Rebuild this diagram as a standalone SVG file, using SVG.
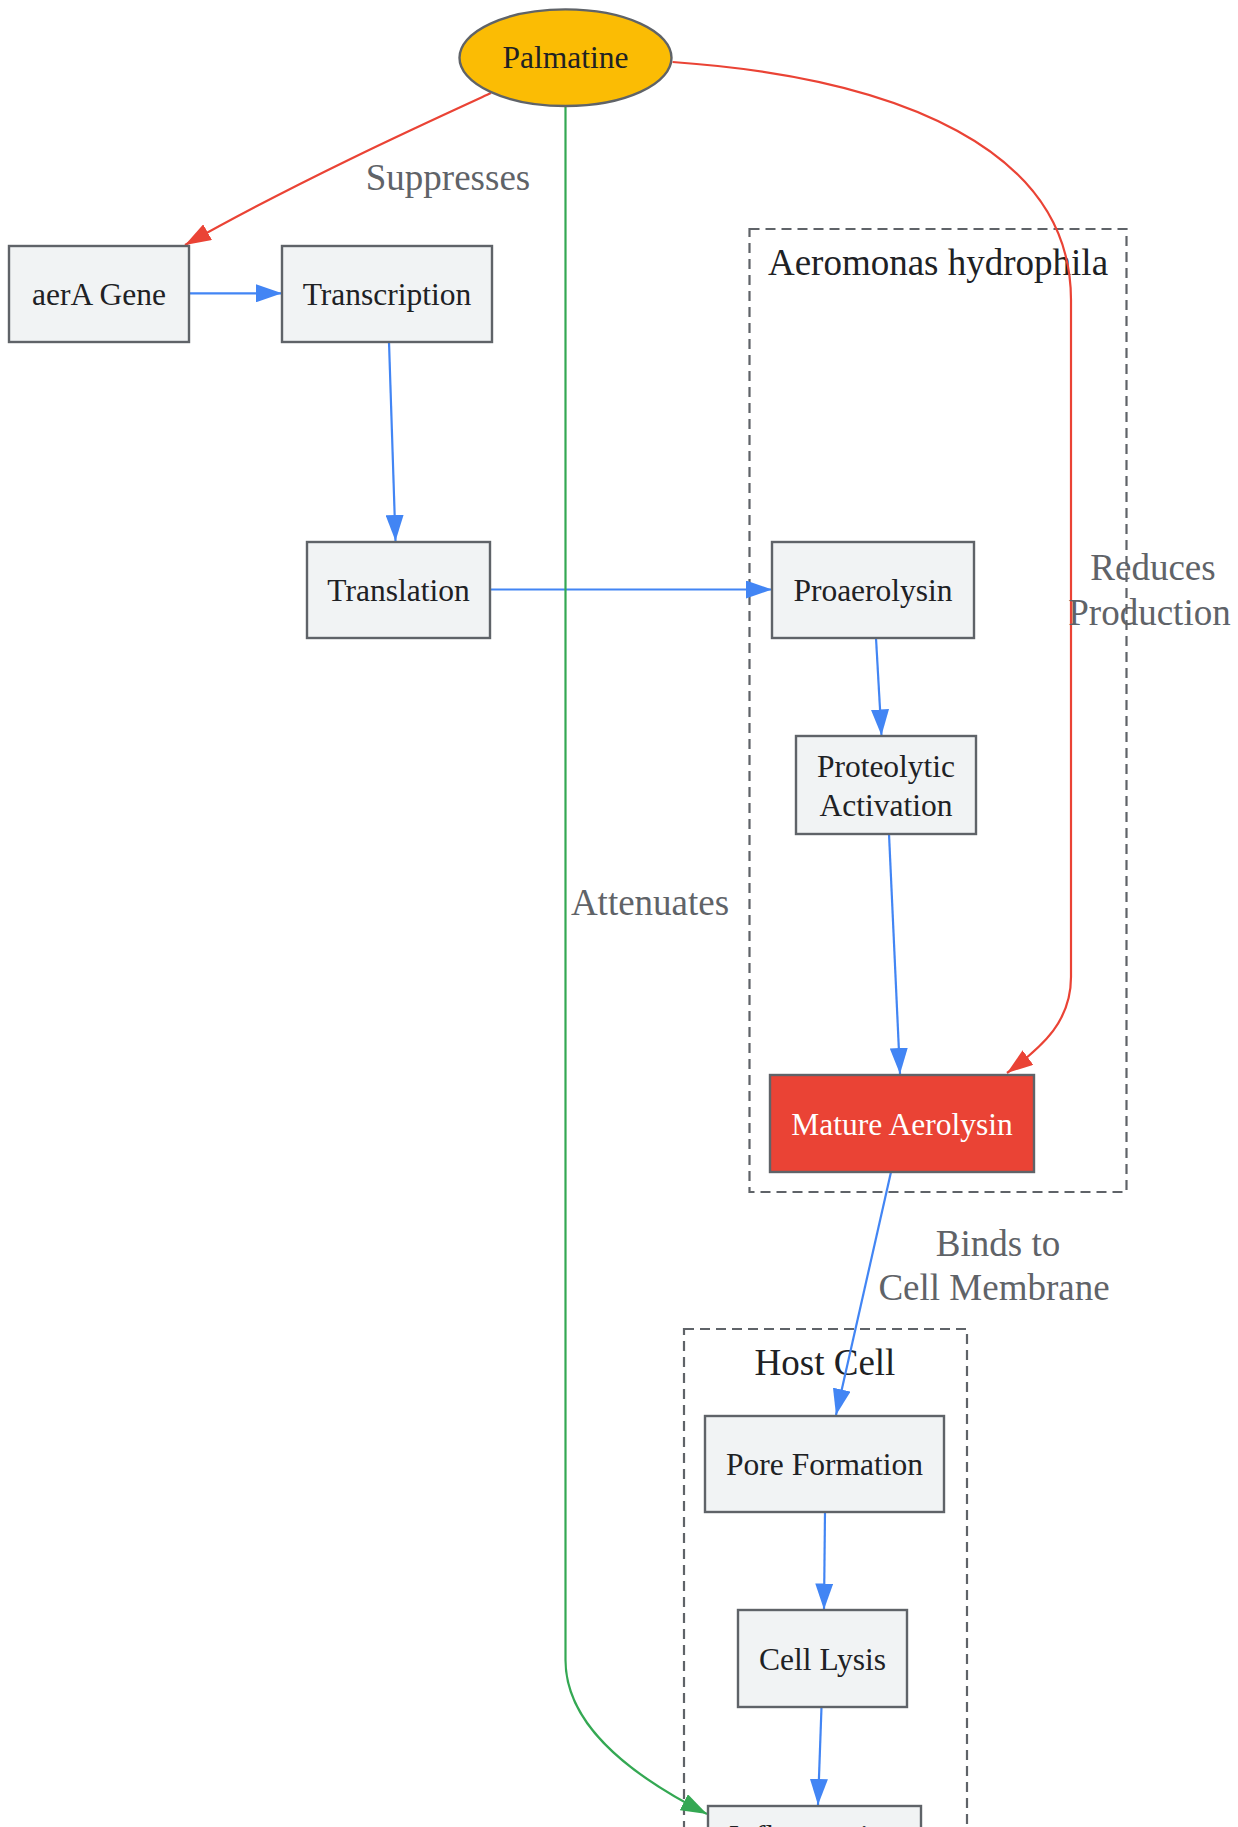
<svg xmlns="http://www.w3.org/2000/svg" width="1238" height="1827" viewBox="0 0 1238 1827">
<style>
.node rect, .node ellipse { fill: #F1F3F4; stroke: #5F6368; stroke-width: 2.4; }
.ntext { font-family: "Liberation Serif", "Times New Roman", serif; font-size: 31.5px; fill: #202124; text-anchor: middle; }
.elabel { font-family: "Liberation Serif", "Times New Roman", serif; font-size: 37px; fill: #5F6368; text-anchor: middle; }
.clabel { font-family: "Liberation Serif", "Times New Roman", serif; font-size: 37px; fill: #202124; text-anchor: middle; }
.cluster rect { fill: none; stroke: #5F6368; stroke-width: 2.2; stroke-dasharray: 10 6; }
.edge { fill: none; stroke-width: 2.2; }
.blue { stroke: #4285F4; }
.red { stroke: #EA4335; }
.green { stroke: #34A853; }
</style>
<defs>
<marker id="ab" markerUnits="userSpaceOnUse" markerWidth="26" markerHeight="18" refX="26" refY="9" orient="auto"><path d="M0,0 L26,9 L0,18 z" fill="#4285F4"/></marker>
<marker id="ar" markerUnits="userSpaceOnUse" markerWidth="26" markerHeight="18" refX="26" refY="9" orient="auto"><path d="M0,0 L26,9 L0,18 z" fill="#EA4335"/></marker>
<marker id="ag" markerUnits="userSpaceOnUse" markerWidth="26" markerHeight="18" refX="26" refY="9" orient="auto"><path d="M0,0 L26,9 L0,18 z" fill="#34A853"/></marker>
</defs>
<rect width="1238" height="1827" fill="#FFFFFF"/>

<g id="cluster-aeromonas" class="cluster">
<rect x="749.5" y="229" width="377" height="963"/>
<text class="clabel" x="938" y="275">Aeromonas hydrophila</text>
</g>
<g id="cluster-host" class="cluster">
<rect x="684" y="1329" width="283" height="600"/>
<text class="clabel" x="825" y="1375">Host Cell</text>
</g>

<g id="connectors">
<path class="edge red" d="M491,93 C430,121 300,180 185,245" marker-end="url(#ar)"/>
<path class="edge blue" d="M189,293.3 L282,293.3" marker-end="url(#ab)"/>
<path class="edge blue" d="M389,342 L395.5,541" marker-end="url(#ab)"/>
<path class="edge blue" d="M490,589.5 L772,589.5" marker-end="url(#ab)"/>
<path class="edge blue" d="M876,638 L881.5,735.5" marker-end="url(#ab)"/>
<path class="edge blue" d="M889,834 L900,1074" marker-end="url(#ab)"/>
<path class="edge blue" d="M891,1172 L836,1415" marker-end="url(#ab)"/>
<path class="edge blue" d="M825,1512 L824,1609.5" marker-end="url(#ab)"/>
<path class="edge blue" d="M821.5,1707 L818,1805" marker-end="url(#ab)"/>
<path class="edge red" d="M672.6,62 C900,78 1071,150 1071,300 L1071,977 C1071,1020 1045,1045 1007,1073" marker-end="url(#ar)"/>
<path class="edge green" d="M565.5,106 L565.5,1660 C565.5,1720 620,1770 707,1814" marker-end="url(#ag)"/>
<text class="elabel" x="448" y="190">Suppresses</text>
<text class="elabel" x="1153" y="580">Reduces</text>
<text class="elabel" x="1149.5" y="625">Production</text>
<text class="elabel" x="650" y="915">Attenuates</text>
<text class="elabel" x="998" y="1255.5">Binds to</text>
<text class="elabel" x="994" y="1300">Cell Membrane</text>
</g>

<g id="node-palmatine" class="node">
<ellipse cx="565.5" cy="57.7" rx="106" ry="48.3" style="fill:#FBBC04"/>
<text class="ntext" x="565.5" y="68.3">Palmatine</text>
</g>
<g id="node-aerA" class="node">
<rect x="9" y="246" width="180" height="96"/>
<text class="ntext" x="99" y="305">aerA Gene</text>
</g>
<g id="node-transcription" class="node">
<rect x="282" y="246" width="210" height="96"/>
<text class="ntext" x="387" y="305">Transcription</text>
</g>
<g id="node-translation" class="node">
<rect x="307" y="542" width="183" height="96"/>
<text class="ntext" x="398.5" y="601">Translation</text>
</g>
<g id="node-proaerolysin" class="node">
<rect x="772" y="542" width="202" height="96"/>
<text class="ntext" x="873" y="601">Proaerolysin</text>
</g>
<g id="node-proteolytic" class="node">
<rect x="796" y="736" width="180" height="98"/>
<text class="ntext" x="886" y="777">Proteolytic</text>
<text class="ntext" x="886" y="815.5">Activation</text>
</g>
<g id="node-mature" class="node">
<rect x="770" y="1075" width="264" height="97" style="fill:#EA4335"/>
<text class="ntext" x="902" y="1134.5" style="fill:#FFFFFF">Mature Aerolysin</text>
</g>
<g id="node-pore" class="node">
<rect x="705" y="1416" width="239" height="96"/>
<text class="ntext" x="824.5" y="1475">Pore Formation</text>
</g>
<g id="node-lysis" class="node">
<rect x="738" y="1610" width="169" height="97"/>
<text class="ntext" x="822.5" y="1669.5">Cell Lysis</text>
</g>
<g id="node-inflammation" class="node">
<rect x="708" y="1806" width="213" height="98"/>
<text class="ntext" x="814.5" y="1847">Inflammation</text>
</g>
</svg>
